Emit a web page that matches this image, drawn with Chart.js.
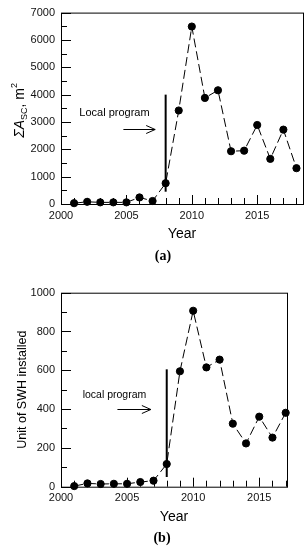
<!DOCTYPE html>
<html>
<head>
<meta charset="utf-8">
<script src="https://cdn.jsdelivr.net/npm/chart.js@4"></script>
<style>
body{margin:0;background:#fff;width:308px;height:550px;position:relative;overflow:hidden}
.box{position:absolute;left:0;width:308px}
.cap{position:absolute;font:bold 14px "Liberation Serif",serif;color:#000;transform:translate(-50%,-50%)}
</style>
</head>
<body>
<div class="box" style="top:0;height:270px"><canvas id="chartA" width="308" height="270"></canvas></div>
<div class="box" style="top:270px;height:280px"><canvas id="chartB" width="308" height="280"></canvas></div>
<div class="cap" style="left:163px;top:256px">(a)</div>
<div class="cap" style="left:162px;top:538px">(b)</div>
<script>
// data
const yearsA = [2001,2002,2003,2004,2005,2006,2007,2008,2009,2010,2011,2012,2013,2014,2015,2016,2017,2018];
const areaA = [30,80,60,60,60,240,110,760,3420,6490,3880,4160,1930,1950,2890,1650,2720,1310];
const yearsB = [2001,2002,2003,2004,2005,2006,2007,2008,2009,2010,2011,2012,2013,2014,2015,2016,2017];
const unitsB = [3,17,14,15,15,24,31,117,595,907,615,655,325,223,361,253,381];
const xTicks = [2000,2005,2010,2015];
const yTicksA = [0,1000,2000,3000,4000,5000,6000,7000];
const yTicksB = [0,200,400,600,800,1000];

const sans = '"Liberation Sans", Arial, sans-serif';

// box, inward tick marks and the "local program" marker
const frame = {
  id: 'frame',
  afterDatasetsDraw(chart, args, o) {
    const {ctx, chartArea: a, scales: {x, y}} = chart;
    ctx.save();
    ctx.strokeStyle = '#000';
    ctx.fillStyle = '#000';
    ctx.lineWidth = 1;
    ctx.strokeRect(a.left + 0.5, a.top + 0.5, a.right - a.left, a.bottom - a.top);
    ctx.beginPath();
    for (let v = 2000; v <= x.max; v++) {
      const px = Math.round(x.getPixelForValue(v)) + 0.5;
      const len = v % 5 === 0 ? 9 : 6;
      ctx.moveTo(px, a.bottom); ctx.lineTo(px, a.bottom - len);
    }
    for (let v = 0; v <= y.max; v += o.yMinor) {
      const py = Math.round(y.getPixelForValue(v)) + 0.5;
      const len = v % (2 * o.yMinor) === 0 ? 10 : 6;
      ctx.moveTo(a.left, py); ctx.lineTo(a.left + len, py);
    }
    ctx.stroke();

    const p = o.program;
    ctx.lineWidth = 2;
    ctx.beginPath();
    const lx = x.getPixelForValue(p.year);
    ctx.moveTo(lx, y.getPixelForValue(p.from));
    ctx.lineTo(lx, y.getPixelForValue(p.to));
    ctx.stroke();

    ctx.lineWidth = 1;
    const ax0 = x.getPixelForValue(p.arrow[0]), ax1 = x.getPixelForValue(p.arrow[1]);
    const ay = Math.round(y.getPixelForValue(p.arrow[2])) + 0.5;
    ctx.beginPath();
    ctx.moveTo(ax0, ay); ctx.lineTo(ax1, ay);
    ctx.moveTo(ax1 - 9, ay - 4); ctx.lineTo(ax1, ay); ctx.lineTo(ax1 - 9, ay + 4);
    ctx.stroke();

    ctx.font = p.font;
    ctx.textAlign = 'left';
    ctx.textBaseline = 'middle';
    ctx.fillText(p.label, x.getPixelForValue(p.at[0]), y.getPixelForValue(p.at[1]));
    ctx.restore();
  }
};

// y title of (a) with subscript and superscript
const areaTitle = {
  id: 'areaTitle',
  afterDraw(chart) {
    const {ctx, chartArea: a} = chart;
    const parts = [
      ['\u03A3A', 'italic 14px ' + sans, 0],
      ['SC', '9px ' + sans, 3],
      [', m', '14px ' + sans, 0],
      ['2', '9px ' + sans, -7]
    ];
    ctx.save();
    let w = 0;
    parts.forEach(pt => { ctx.font = pt[1]; w += ctx.measureText(pt[0]).width; });
    ctx.translate(23.5, (a.top + a.bottom) / 2 + 2);
    ctx.rotate(-Math.PI / 2);
    ctx.fillStyle = '#000';
    ctx.textBaseline = 'alphabetic';
    let cx = -w / 2;
    parts.forEach(pt => {
      ctx.font = pt[1];
      ctx.fillText(pt[0], cx, pt[2]);
      cx += ctx.measureText(pt[0]).width;
    });
    ctx.restore();
  }
};

function makeChart(id, years, values, cfg) {
  return new Chart(document.getElementById(id), {
    type: 'line',
    data: {
      datasets: [{
        data: years.map((yr, i) => ({x: yr, y: values[i]})),
        borderColor: '#000',
        borderWidth: 1,
        borderDash: [9, 4],
        pointRadius: 3.6,
        pointBackgroundColor: '#000',
        pointBorderColor: '#000',
        tension: 0,
        clip: false
      }]
    },
    options: {
      responsive: false,
      animation: false,
      events: [],
      layout: {padding: cfg.padding},
      plugins: {
        legend: {display: false},
        tooltip: {enabled: false},
        frame: {yMinor: cfg.yMinor, program: cfg.program}
      },
      scales: {
        x: {
          type: 'linear',
          min: 2000,
          max: cfg.xMax,
          grid: {display: false, drawTicks: false},
          border: {display: false},
          afterBuildTicks: s => { s.ticks = xTicks.map(v => ({value: v})); },
          afterFit: s => { s.height = cfg.xHeight; },
          ticks: {color: '#111', padding: 5, font: {family: sans, size: 11}, callback: v => String(v)},
          title: {display: true, text: 'Year', color: '#000', font: {family: sans, size: 14}, padding: {top: 0, bottom: cfg.yearPad}}
        },
        y: {
          min: 0,
          max: cfg.yTicks[cfg.yTicks.length - 1],
          grid: {display: false, drawTicks: false},
          border: {display: false},
          afterBuildTicks: s => { s.ticks = cfg.yTicks.map(v => ({value: v})); },
          afterFit: s => { s.width = 61; },
          ticks: {color: '#111', padding: 6, font: {family: sans, size: 11}, callback: v => String(v)},
          title: cfg.yTitle
        }
      }
    },
    plugins: cfg.plugins
  });
}

makeChart('chartA', yearsA, areaA, {
  padding: {top: 10, right: 5, left: 0, bottom: 0},
  xMax: 2018.5,
  xHeight: 66,
  yearPad: 27,
  yTicks: yTicksA,
  yMinor: 500,
  yTitle: {display: false},
  program: {year: 2008, from: 450, to: 4000, arrow: [2004.77, 2007.2, 2750], at: [2001.4, 3320],
            label: 'Local program', font: '11px ' + sans},
  plugins: [frame, areaTitle]
});

makeChart('chartB', yearsB, unitsB, {
  padding: {top: 22.7, right: 21, left: 0, bottom: 0},
  xMax: 2017.1,
  xHeight: 63.3,
  yearPad: 24,
  yTicks: yTicksB,
  yMinor: 100,
  yTitle: {display: true, text: 'Unit of SWH installed', color: '#000', font: {family: sans, size: 12.5}, padding: {top: 15.5, bottom: 0}},
  program: {year: 2008, from: 50, to: 605, arrow: [2004.27, 2006.8, 399], at: [2001.64, 471],
            label: 'local program', font: '10.5px ' + sans},
  plugins: [frame]
});
</script>
</body>
</html>
